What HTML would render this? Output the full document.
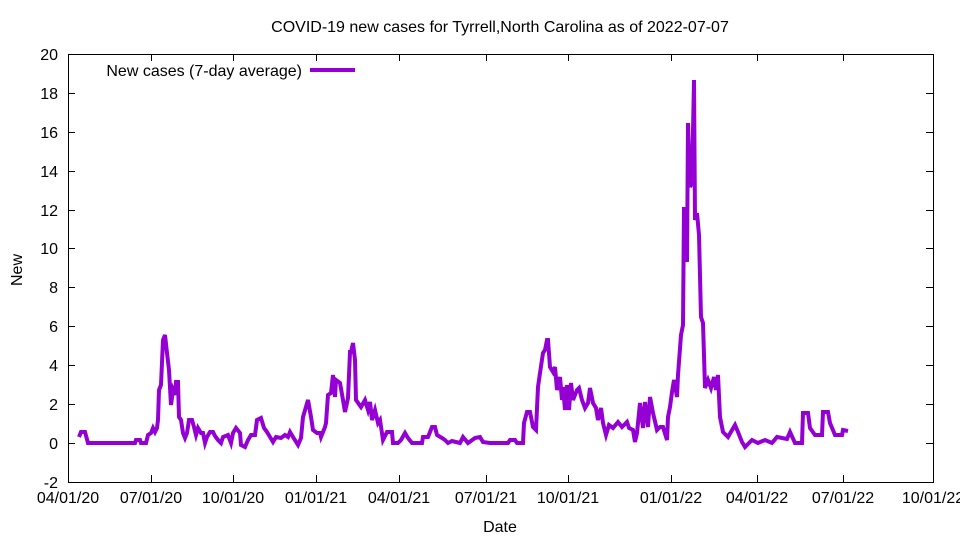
<!DOCTYPE html>
<html><head><meta charset="utf-8"><style>body{margin:0;background:#fff}</style></head><body>
<svg width="960" height="540" xmlns="http://www.w3.org/2000/svg" font-family="Liberation Sans, sans-serif" font-size="16">
<rect width="960" height="540" fill="#fff"/>
<text x="500" y="32" text-anchor="middle">COVID-19 new cases for Tyrrell,North Carolina as of 2022-07-07</text>
<g stroke="#000" stroke-width="1">
<rect x="68.5" y="54.5" width="865" height="428" fill="none"/>
<path d="M68 54.5h7M68 93.5h7M68 132.5h7M68 171.5h7M68 210.5h7M68 248.5h7M68 287.5h7M68 326.5h7M68 365.5h7M68 404.5h7M68 443.5h7M926 54.5h7M926 93.5h7M926 132.5h7M926 171.5h7M926 210.5h7M926 248.5h7M926 287.5h7M926 326.5h7M926 365.5h7M926 404.5h7M926 443.5h7"/>
<path d="M68.5 482v-7M151.5 482v-7M233.5 482v-7M316.5 482v-7M399.5 482v-7M486.5 482v-7M568.5 482v-7M671.5 482v-7M757.5 482v-7M843.5 482v-7M933.5 482v-7M151.5 54v7M233.5 54v7M316.5 54v7M399.5 54v7M486.5 54v7M568.5 54v7M671.5 54v7M757.5 54v7M843.5 54v7"/>
</g>
<g text-anchor="end">
<text x="58" y="60">20</text><text x="58" y="99">18</text><text x="58" y="138">16</text><text x="58" y="177">14</text><text x="58" y="216">12</text><text x="58" y="254">10</text><text x="58" y="293">8</text><text x="58" y="332">6</text><text x="58" y="371">4</text><text x="58" y="410">2</text><text x="58" y="449">0</text><text x="58" y="488">-2</text>
</g>
<g text-anchor="middle">
<text x="68" y="503">04/01/20</text><text x="151" y="503">07/01/20</text><text x="233" y="503">10/01/20</text><text x="316" y="503">01/01/21</text><text x="399" y="503">04/01/21</text><text x="486" y="503">07/01/21</text><text x="568" y="503">10/01/21</text><text x="671" y="503">01/01/22</text><text x="757" y="503">04/01/22</text><text x="843" y="503">07/01/22</text><text x="933" y="503">10/01/22</text>
<text x="500" y="532">Date</text>
<text transform="translate(22,270) rotate(-90)">New</text>
</g>
<text x="302" y="76" text-anchor="end">New cases (7-day average)</text>
<line x1="310" y1="70" x2="355" y2="70" stroke="#9400d3" stroke-width="4"/>
<polyline fill="none" stroke="#9400d3" stroke-width="4" stroke-linejoin="miter" points="79,437 81,432 85,432 88,443 135,443 136,440 140,440 141,443 146,443 148,435 151,433 153,428 155,432 157,428 158,420 159,390 161,385 163,340 165,335 167,353 169,370 171,405 173,390 175,395 176,382 178,382 179,417 181,420 183,433 185,438 187,433 189,420 192,420 194,427 196,435 198,428 201,433 203,433 205,443 207,437 210,432 213,432 215,436 218,440 221,443 223,437 228,435 231,443 233,433 236,428 240,433 241,445 245,447 248,440 251,435 255,435 257,420 261,418 264,428 267,432 270,437 273,442 276,437 281,438 285,435 288,437 290,432 293,437 298,445 301,438 303,417 308,400 311,417 313,430 317,433 320,433 321,437 325,427 326,423 328,395 331,393 333,375 335,397 336,380 340,383 343,400 345,412 348,398 350,352 351,352 353,343 355,360 356,400 361,407 365,400 368,410 370,402 372,420 375,410 378,423 380,420 383,440 387,432 392,432 393,443 398,443 401,440 405,433 408,438 412,443 422,443 423,437 428,437 432,427 435,427 437,435 442,438 445,440 448,443 452,441 460,443 463,437 468,443 475,438 480,437 483,442 490,443 508,443 510,440 515,440 517,443 523,443 524,423 527,412 530,412 533,427 536,430 538,387 540,373 543,353 545,350 547,340 548,340 550,367 553,372 555,367 557,390 560,377 562,400 563,387 565,410 567,385 569,410 571,383 573,400 577,390 579,388 582,400 585,408 588,403 590,388 593,403 596,408 598,420 601,408 603,423 606,435 609,425 613,428 618,422 622,427 627,422 629,428 633,430 635,442 637,433 640,403 643,428 645,402 648,427 650,397 653,413 657,430 660,427 663,427 667,440 668,417 670,407 672,392 674,380 677,397 678,375 681,335 683,325 684,207 687,262 688,123 690,187 692,183 694,80 695,220 697,213 699,235 701,317 703,323 705,388 708,380 711,388 714,377 716,390 718,375 720,417 723,432 728,437 735,425 738,432 742,442 745,447 752,440 758,443 765,440 772,443 777,437 787,439 790,432 795,443 802,443 803,413 808,413 810,428 815,435 822,435 823,412 828,412 830,423 835,435 842,435 843,430 848,431"/>
</svg>
</body></html>
